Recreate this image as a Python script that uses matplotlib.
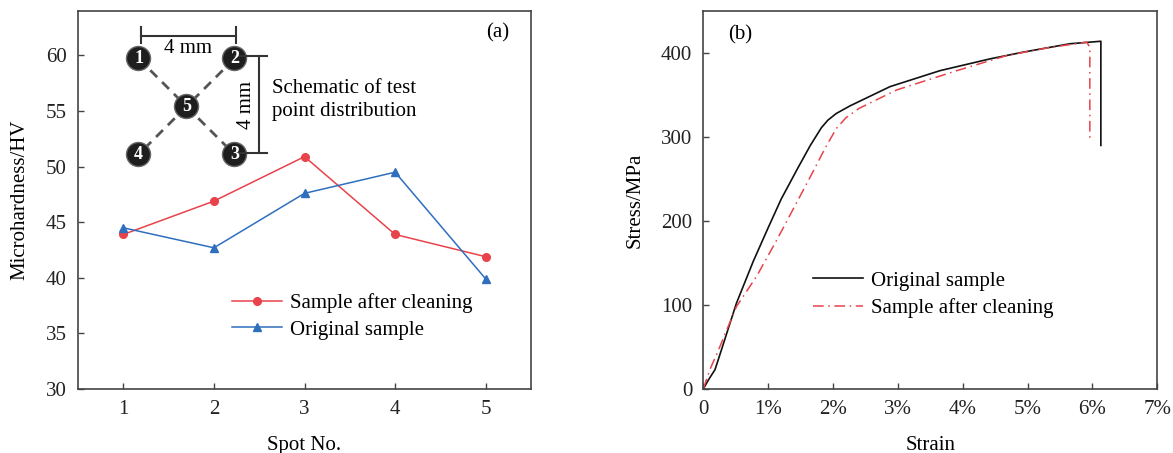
import matplotlib
matplotlib.use("Agg")
from matplotlib import pyplot as plt
from matplotlib.patches import Circle
from matplotlib.ticker import FuncFormatter

plt.rcParams["font.family"] = ["Liberation Serif", "DejaVu Serif"]
plt.rcParams["axes.edgecolor"] = "#444444"
plt.rcParams["xtick.color"] = "#444444"
plt.rcParams["ytick.color"] = "#444444"
plt.rcParams["xtick.labelcolor"] = "#222222"
plt.rcParams["ytick.labelcolor"] = "#222222"

# (a) microhardness at each test spot
spots = [1, 2, 3, 4, 5]
hv_cleaned = [43.9, 46.9, 50.9, 43.9, 41.9]
hv_original = [44.5, 42.7, 47.6, 49.5, 39.9]

# (b) stress-strain curves, strain in %
strain_original = [0, 0.08, 0.18, 0.26, 0.41, 0.51, 0.77, 1.0, 1.2, 1.45,
                   1.65, 1.82, 1.92, 2.05, 2.26, 2.88, 3.65, 4.42, 4.93, 5.65,
                   6.13, 6.13]
stress_original = [0, 11, 23, 42, 78, 102, 152, 192, 226, 262,
                   290, 311, 320, 328, 337, 360, 379, 393, 401, 411,
                   414, 290]
strain_cleaned = [0, 0.10, 0.21, 0.51, 0.82, 1.13, 1.46, 1.7, 1.88, 2.05, 2.2,
                  2.4, 2.98, 3.91, 4.68, 5.30, 5.91, 5.96, 5.96]
stress_cleaned = [0, 23, 42, 98, 134, 177, 225, 260, 287, 310, 323,
                  334, 356, 379, 397, 406, 413, 407, 298]

# schematic of test points (mm)
pt_labels = ["1", "2", "3", "4", "5"]
pt_x = [0, 4, 4, 0, 2]
pt_y = [4, 4, 0, 0, 2]

RED = "#e8434b"
BLUE = "#2f6fbd"
FS = 15

fig = plt.figure(figsize=(11.73, 4.53), dpi=100)
ax1 = fig.add_axes([0.0665, 0.1413, 0.3862, 0.8344])
ax2 = fig.add_axes([0.5996, 0.1413, 0.3870, 0.8344])

for ax in (ax1, ax2):
    ax.tick_params(direction="in", length=4, width=1, labelsize=FS, pad=8)
    for s in ax.spines.values():
        s.set_linewidth(1.2)

# ---- panel (a)
ax1.plot(spots, hv_cleaned, color=RED, marker="o", markersize=5.5, lw=1.1,
         label="Sample after cleaning")
ax1.plot(spots, hv_original, color=BLUE, marker="^", markersize=6, lw=1.1,
         label="Original sample")
ax1.set_xlim(0.5, 5.5)
ax1.set_ylim(30, 64)
ax1.set_xticks(spots)
ax1.set_yticks([30, 35, 40, 45, 50, 55, 60])
ax1.set_xlabel("Spot No.", fontsize=FS, labelpad=12)
ax1.set_ylabel("Microhardness/HV", fontsize=FS, labelpad=12)
ax1.text(0.927, 0.942, "(a)", transform=ax1.transAxes, fontsize=FS,
         ha="center", va="center")
ax1.legend(loc="upper left", bbox_to_anchor=(0.34, 0.254), frameon=False,
           fontsize=FS, handlelength=2.4, handletextpad=0.4, labelspacing=0.35,
           borderpad=0, borderaxespad=0)

# inset schematic, drawn in mm
sk = ax1.inset_axes([0.0806, 0.5569, 0.6887, 0.4127])
sk.set_xlim(-1, 12)
sk.set_ylim(-1, 5.5)
sk.set_aspect("equal")
sk.axis("off")
for a, b in ((0, 4), (4, 2), (1, 4), (4, 3)):
    sk.plot([pt_x[a], pt_x[b]], [pt_y[a], pt_y[b]], color="#555555", lw=2,
            ls=(0, (3.5, 2.5)), zorder=1)
for lab, x, y in zip(pt_labels, pt_x, pt_y):
    sk.add_patch(Circle((x, y), 0.5, facecolor="#1e1e1e", edgecolor="#666666",
                        lw=1, zorder=2))
    sk.text(x, y, lab, color="white", fontsize=13, fontweight="bold",
            ha="center", va="center", zorder=3)
# dimension lines
sk.plot([0.1, 4.05], [4.94, 4.94], color="#333333", lw=1.5)
sk.plot([0.1, 0.1], [4.65, 5.31], color="#333333", lw=1.5)
sk.plot([4.05, 4.05], [4.65, 5.31], color="#333333", lw=1.5)
sk.text(2.05, 4.4, "4 mm", fontsize=FS, ha="center", va="center")
sk.plot([5.0, 5.0], [0.05, 4.1], color="#333333", lw=1.5)
sk.plot([4.0, 5.37], [4.1, 4.1], color="#333333", lw=1.5)
sk.plot([4.0, 5.37], [0.05, 0.05], color="#333333", lw=1.5)
sk.text(4.5, 2.05, "4 mm", fontsize=FS, rotation=90, ha="center", va="center")
sk.text(5.55, 2.27, "Schematic of test\npoint distribution", fontsize=FS,
        ha="left", va="center", linespacing=1.3)

# ---- panel (b)
ax2.plot(strain_original, stress_original, color="#111111", lw=1.2,
         label="Original sample")
ax2.plot(strain_cleaned, stress_cleaned, color=RED, lw=1.1, ls=(0, (7, 3, 1, 3)),
         label="Sample after cleaning")
ax2.set_xlim(0, 7)
ax2.set_ylim(0, 450)
ax2.set_xticks(range(8))
ax2.set_yticks([0, 100, 200, 300, 400])
ax2.xaxis.set_major_formatter(FuncFormatter(lambda v, p: "0" if v == 0 else f"{v:g}%"))
ax2.set_xlabel("Strain", fontsize=FS, labelpad=12)
ax2.set_ylabel("Stress/MPa", fontsize=FS, labelpad=12)
ax2.text(0.081, 0.937, "(b)", transform=ax2.transAxes, fontsize=FS,
         ha="center", va="center")
ax2.legend(loc="upper left", bbox_to_anchor=(0.241, 0.312), frameon=False,
           fontsize=FS, handlelength=2.4, handletextpad=0.4, labelspacing=0.35,
           borderpad=0, borderaxespad=0)

fig.savefig("out.png", dpi=100)
